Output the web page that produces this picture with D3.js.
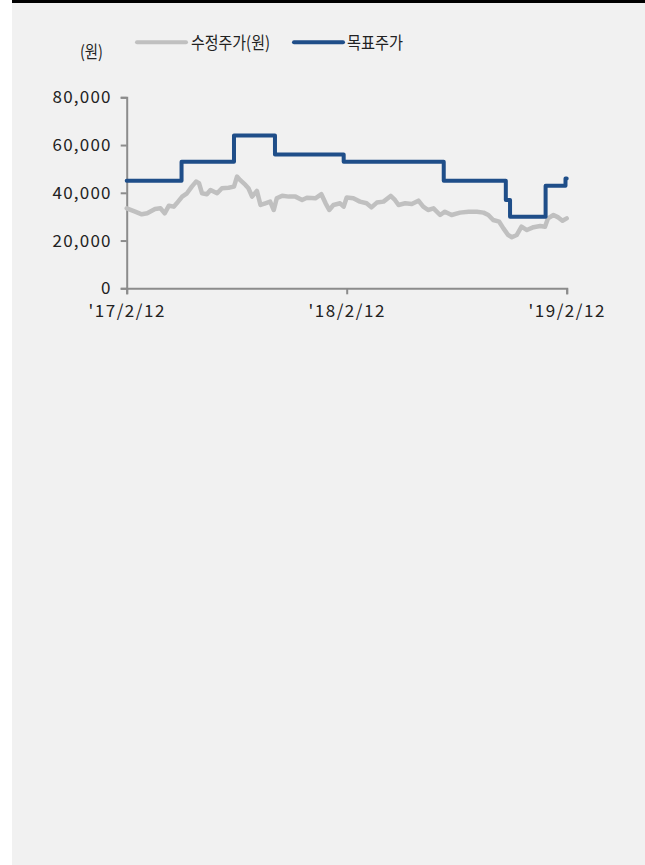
<!DOCTYPE html>
<html><head><meta charset="utf-8">
<script src="https://cdn.jsdelivr.net/npm/d3@7"></script>
<style>
html,body{margin:0;padding:0;background:#fff;}
svg{display:block;}
text{font-family:"Noto Sans CJK KR","Noto Sans",sans-serif;fill:#222;}
</style></head>
<body>
<script>
const priceDates = ["2017-02-12","2017-02-26","2017-03-09","2017-03-18","2017-03-31","2017-04-09","2017-04-16","2017-04-23","2017-05-01","2017-05-06","2017-05-15","2017-05-23","2017-05-31","2017-06-07","2017-06-12","2017-06-17","2017-06-25","2017-07-01","2017-07-12","2017-07-20","2017-07-31","2017-08-09","2017-08-14","2017-08-19","2017-08-28","2017-09-02","2017-09-08","2017-09-16","2017-09-22","2017-09-30","2017-10-08","2017-10-14","2017-10-19","2017-10-28","2017-11-08","2017-11-19","2017-11-30","2017-12-08","2017-12-22","2018-01-01","2018-01-08","2018-01-14","2018-01-21","2018-02-01","2018-02-07","2018-02-12","2018-02-23","2018-03-06","2018-03-17","2018-03-25","2018-04-03","2018-04-14","2018-04-26","2018-05-03","2018-05-09","2018-05-20","2018-05-31","2018-06-11","2018-06-19","2018-06-27","2018-07-06","2018-07-17","2018-07-25","2018-08-05","2018-08-19","2018-09-02","2018-09-16","2018-09-27","2018-10-05","2018-10-13","2018-10-23","2018-10-30","2018-11-07","2018-11-13","2018-11-21","2018-11-29","2018-12-08","2018-12-19","2018-12-30","2019-01-07","2019-01-12","2019-01-21","2019-01-29","2019-02-05","2019-02-12"];
const priceValues = [33500,32100,31000,31400,33200,33500,31400,34600,34200,35600,38400,39800,42600,44700,44000,39800,39400,41200,39800,41900,42100,42600,46800,45400,43300,41900,38400,40800,34900,35600,36300,32800,37700,38800,38400,38400,37000,37900,37700,39400,35600,32800,34900,35600,34200,38000,37700,36300,35600,33900,35900,36300,38700,37000,34900,35600,35300,36700,34200,32800,33500,30700,32100,30700,31700,32100,32100,31700,30700,28600,27900,25100,22300,21400,22300,25800,24400,25600,26100,25800,29300,30700,29700,28300,29300];

const targetDates = ["2017-02-12","2017-05-14","2017-08-09","2017-10-16","2018-02-07","2018-07-23","2018-11-03","2018-11-10","2019-01-08","2019-02-10","2019-02-12"];
const targetValues = [45000,53000,64000,56000,53000,45000,37000,30000,43000,46000,46000];

const yTicks = [0,20000,40000,60000,80000];
const xTickDates = ["2017-02-12","2018-02-12","2019-02-12"];
const xTickLabels = ["'17/2/12","'18/2/12","'19/2/12"];
const seriesNames = ["수정주가(원)","목표주가"];
const unitLabel = "(원)";

const parse = d3.timeParse("%Y-%m-%d");
const W = 645, H = 865;
const FONT = '"Noto Sans CJK KR","Noto Sans",sans-serif';
const svg = d3.select("body").append("svg").attr("width", W).attr("height", H);

svg.append("rect").attr("x",12).attr("y",0).attr("width",W-12).attr("height",H).attr("fill","#f1f1f1");
svg.append("rect").attr("x",12).attr("y",0).attr("width",W-12).attr("height",3).attr("fill","#000");

const x = d3.scaleTime().domain([parse(xTickDates[0]), parse(xTickDates[2])]).range([126.7, 566.7]);
const y = d3.scaleLinear().domain([0,80000]).range([288.3, 97.3]);

const axisColor = "#8c8c8c";
const yAxis = svg.append("g").attr("transform","translate(126.7,0)")
  .call(d3.axisLeft(y).tickValues(yTicks).tickSize(6).tickPadding(9).tickFormat(d3.format(",")));
const xAxis = svg.append("g").attr("transform","translate(0,288.3)")
  .call(d3.axisBottom(x).tickValues(xTickDates.map(parse)).tickSize(6).tickPadding(11)
    .tickFormat((d,i)=>xTickLabels[i]));
[yAxis,xAxis].forEach(g=>{
  g.select(".domain").attr("stroke",axisColor).attr("stroke-width",2);
  g.selectAll(".tick line").attr("stroke",axisColor).attr("stroke-width",2);
  g.selectAll(".tick text").style("font-size","17px").attr("fill","#222")
    .style("font-family",FONT);
});
yAxis.selectAll(".tick text").style("letter-spacing","1.2px");
xAxis.selectAll(".tick text").style("letter-spacing","1.5px");

const priceData = priceDates.map((d,i)=>({date:parse(d), v:priceValues[i]}));
const targetData = targetDates.map((d,i)=>({date:parse(d), v:targetValues[i]}));

svg.append("path").datum(priceData)
  .attr("fill","none").attr("stroke","#c0c0c0").attr("stroke-width",4.5)
  .attr("stroke-linejoin","round").attr("stroke-linecap","round")
  .attr("d", d3.line().x(d=>x(d.date)).y(d=>y(d.v)));

svg.append("path").datum(targetData)
  .attr("fill","none").attr("stroke","#1f4e89").attr("stroke-width",4)
  .attr("stroke-linejoin","round").attr("stroke-linecap","round")
  .attr("d", d3.line().curve(d3.curveStepAfter).x(d=>x(d.date)).y(d=>y(d.v)));

// unit label
svg.append("text").attr("x",80).attr("y",58)
  .attr("textLength",23).attr("lengthAdjust","spacingAndGlyphs")
  .style("font-size","17px").text(unitLabel);

// legend
const lg = svg.append("g");
lg.append("line").attr("x1",137).attr("x2",186).attr("y1",42.3).attr("y2",42.3)
  .attr("stroke","#c0c0c0").attr("stroke-width",4).attr("stroke-linecap","round");
lg.append("text").attr("x",191).attr("y",48.5)
  .attr("textLength",79).attr("lengthAdjust","spacingAndGlyphs")
  .style("font-size","17px").text(seriesNames[0]);
lg.append("line").attr("x1",294).attr("x2",343).attr("y1",42.3).attr("y2",42.3)
  .attr("stroke","#1f4e89").attr("stroke-width",4).attr("stroke-linecap","round");
lg.append("text").attr("x",347).attr("y",48.5)
  .attr("textLength",56).attr("lengthAdjust","spacingAndGlyphs")
  .style("font-size","17px").text(seriesNames[1]);
</script>
</body></html>
